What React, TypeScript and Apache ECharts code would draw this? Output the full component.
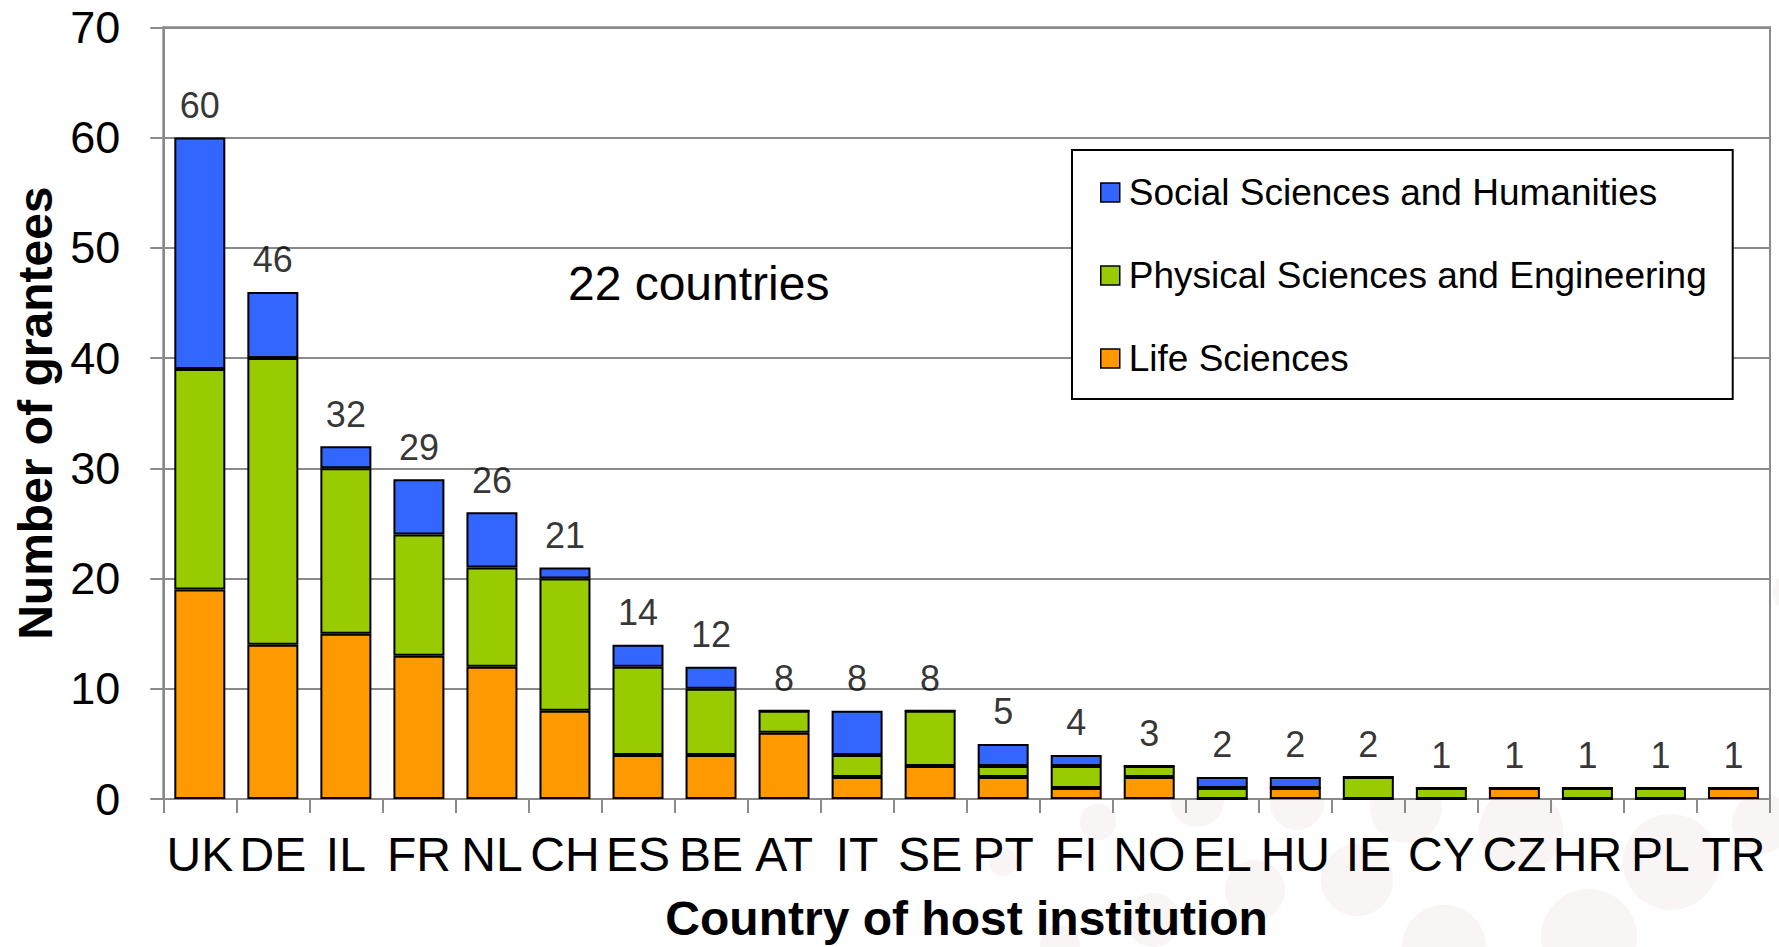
import React, { useEffect, useRef } from "react";
import * as echarts from "echarts";

const categories = ["UK", "DE", "IL", "FR", "NL", "CH", "ES", "BE", "AT", "IT", "SE", "PT", "FI", "NO", "EL", "HU", "IE", "CY", "CZ", "HR", "PL", "TR"];
const lifeSciences = [19, 14, 15, 13, 12, 8, 4, 4, 6, 2, 3, 2, 1, 2, 0, 1, 0, 0, 1, 0, 0, 1];
const physicalSciences = [20, 26, 15, 11, 9, 12, 8, 6, 2, 2, 5, 1, 2, 1, 1, 0, 2, 1, 0, 1, 1, 0];
const socialSciences = [21, 6, 2, 5, 5, 1, 2, 2, 0, 4, 0, 2, 1, 0, 1, 1, 0, 0, 0, 0, 0, 0];
const seriesNames = ["Social Sciences and Humanities", "Physical Sciences and Engineering", "Life Sciences"];
const yTicks = [0, 10, 20, 30, 40, 50, 60, 70];
const annotation = "22 countries";

const FONT = "'Liberation Sans', Arial, Helvetica, sans-serif";
const GRID_GRAY = "#8a8a8a";

const bgCircles: [number, number, number][] = [
  [1098, 822, 18], [1003, 862, 14], [1197, 800, 27], [1297, 803, 27], [1255, 890, 30],
  [1153, 920, 27], [1060, 945, 20], [1357, 880, 36], [1406, 807, 36], [1521, 830, 42],
  [1671, 862, 48], [1762, 823, 30], [1589, 937, 48], [1444, 947, 42], [1795, 592, 22],
];

export default function App() {
  const ref = useRef<HTMLDivElement>(null);
  useEffect(() => {
    if (!ref.current) return;
    const chart = echarts.init(ref.current, null, { renderer: "svg" });
    const totals = categories.map((_, i) => lifeSciences[i] + physicalSciences[i] + socialSciences[i]);
    const barCommon = {
      type: "bar" as const,
      stack: "total",
      barWidth: 51,
    };
    chart.setOption({
      animation: false,
      backgroundColor: "#ffffff",
      textStyle: { fontFamily: FONT },
      grid: {
        left: 163.3,
        right: 9,
        top: 27.3,
        bottom: 144.7,
        show: true,
        backgroundColor: "#ffffff",
        borderColor: GRID_GRAY,
        borderWidth: 2,
      },
      legend: {
        data: seriesNames,
        orient: "vertical",
        left: 1072,
        top: 150,
        padding: [24, 26, 22, 28],
        itemGap: 46,
        itemWidth: 19,
        itemHeight: 19,
        icon: "rect",
        borderColor: "#000",
        borderWidth: 2,
        backgroundColor: "#fff",
        itemStyle: { borderColor: "#000", borderWidth: 1.5 },
        textStyle: { fontSize: 37, color: "#000", fontFamily: FONT, padding: [0, 0, 0, 4] },
        selectedMode: false,
      },
      xAxis: {
        type: "category",
        data: categories,
        axisLine: { show: true, lineStyle: { color: GRID_GRAY, width: 2 } },
        axisTick: { show: true, length: 14, interval: 0, lineStyle: { color: GRID_GRAY, width: 2 } },
        axisLabel: { interval: 0, fontSize: 48, color: "#000", margin: 31, fontFamily: FONT },
        name: "Country of host institution",
        nameLocation: "middle",
        nameGap: 95,
        nameTextStyle: { fontSize: 48, fontWeight: "bold", color: "#000", fontFamily: FONT },
      },
      yAxis: {
        type: "value",
        min: yTicks[0],
        max: yTicks[yTicks.length - 1],
        interval: 10,
        axisLine: { show: true, lineStyle: { color: GRID_GRAY, width: 2 } },
        axisTick: { show: true, length: 13, lineStyle: { color: GRID_GRAY, width: 2 } },
        splitLine: { show: true, lineStyle: { color: GRID_GRAY, width: 2 } },
        axisLabel: { fontSize: 45, color: "#000", margin: 43, fontFamily: FONT },
        name: "Number of grantees",
        nameLocation: "middle",
        nameGap: 104,
        nameTextStyle: { fontSize: 48, fontWeight: "bold", color: "#000", fontFamily: FONT },
      },
      graphic: [
        ...bgCircles.map(([cx, cy, r]) => ({
          type: "circle",
          shape: { cx, cy, r },
          style: { fill: "#f8f5f4" },
          z: -10,
          silent: true,
        })),
        {
          type: "text",
          x: 698.7,
          y: 283,
          z: 10,
          style: {
            text: annotation,
            fontSize: 48,
            fontFamily: FONT,
            fill: "#000",
            align: "center",
            verticalAlign: "middle",
          },
        },
      ],
      series: [
        {
          ...barCommon,
          name: seriesNames[2],
          data: lifeSciences,
          itemStyle: { color: "#ff9900", borderColor: "#000", borderWidth: 2 },
        },
        {
          ...barCommon,
          name: seriesNames[1],
          data: physicalSciences,
          itemStyle: { color: "#99cc00", borderColor: "#000", borderWidth: 2 },
        },
        {
          ...barCommon,
          name: seriesNames[0],
          data: socialSciences,
          itemStyle: { color: "#3366ff", borderColor: "#000", borderWidth: 2 },
        },
        {
          type: "scatter",
          name: "Total",
          data: totals,
          symbolSize: 0,
          itemStyle: { color: "transparent" },
          z: 5,
          label: {
            show: true,
            position: "top",
            distance: 14,
            fontSize: 36,
            color: "#000",
            fontFamily: FONT,
          },
          silent: true,
        },
      ],
    });
    return () => chart.dispose();
  }, []);
  return (
    <div
      ref={ref}
      style={{ position: "fixed", left: 0, top: 0, width: 1779, height: 947, background: "#fff" }}
    />
  );
}
